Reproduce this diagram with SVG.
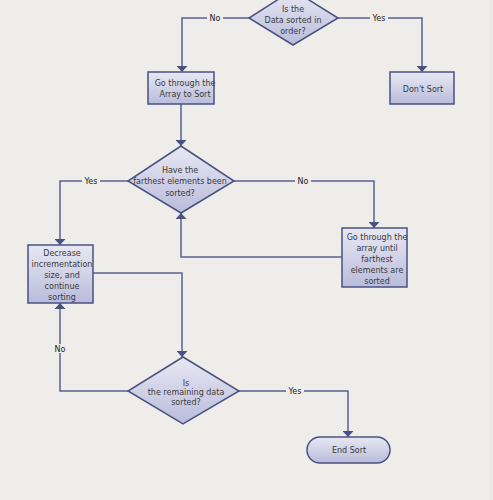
<svg xmlns="http://www.w3.org/2000/svg" width="493" height="500" viewBox="0 0 493 500">
<defs>
<linearGradient id="g" x1="0" y1="0" x2="0" y2="1">
<stop offset="0" stop-color="#e8e8f3"/>
<stop offset="1" stop-color="#b9bcdb"/>
</linearGradient>
<marker id="arr" viewBox="0 0 6 11" refX="6" refY="5.5" markerWidth="6" markerHeight="11" markerUnits="userSpaceOnUse" orient="auto">
<path d="M0,0 L6,5.5 L0,11 Z" fill="#4a5282"/>
</marker>
<style>
.s{fill:url(#g);stroke:#4a5282;stroke-width:1.5}
.c{fill:none;stroke:#5a6290;stroke-width:1.5;marker-end:url(#arr)}
text{font-family:"DejaVu Sans","Liberation Sans",sans-serif;font-size:8px;fill:#3a3a3a;text-anchor:middle}
.lb{fill:#222}
</style>
</defs>
<rect width="493" height="500" fill="#eeedea"/>
<line x1="491" y1="0" x2="491" y2="500" stroke="#e2e1de" stroke-width="1"/>
<g id="connectors">
<polyline class="c" points="249,18 182,18 182,72"/>
<polyline class="c" points="338,18 422,18 422,72"/>
<polyline class="c" points="181,104 181,146"/>
<polyline class="c" points="128,181 60,181 60,245"/>
<polyline class="c" points="234,181 374,181 374,228"/>
<polyline class="c" points="342,257 181,257 181,213"/>
<polyline class="c" points="93,273 182,273 182,357"/>
<polyline class="c" points="128,391 60,391 60,303"/>
<polyline class="c" points="239,391 348,391 348,437"/>
<rect x="207" y="13" width="16" height="9" fill="#eeedea"/>
<text class="lb" x="215" y="21">No</text>
<rect x="370" y="13" width="18" height="9" fill="#eeedea"/>
<text class="lb" x="379" y="21">Yes</text>
<rect x="82" y="176" width="18" height="9" fill="#eeedea"/>
<text class="lb" x="91" y="184">Yes</text>
<rect x="295" y="176" width="16" height="9" fill="#eeedea"/>
<text class="lb" x="303" y="184">No</text>
<rect x="52" y="344" width="16" height="9" fill="#eeedea"/>
<text class="lb" x="60" y="352">No</text>
<rect x="286" y="386" width="18" height="9" fill="#eeedea"/>
<text class="lb" x="295" y="394">Yes</text>
</g>
<g id="q1">
<polygon class="s" points="293,-10 338,18 293,45 249,18"/>
<text x="293" y="12">Is the</text>
<text x="293" y="23">Data sorted  in</text>
<text x="293" y="34">order?</text>
</g>
<g id="goArray">
<rect class="s" x="148" y="72" width="66" height="32"/>
<text x="185" y="86">Go through the</text>
<text x="185" y="97">Array to Sort</text>
</g>
<g id="dontSort">
<rect class="s" x="390" y="72" width="64" height="32"/>
<text x="423" y="92">Don't Sort</text>
</g>
<g id="q2">
<polygon class="s" points="181,146 234,181 181,213 128,181"/>
<text x="180" y="173">Have the</text>
<text x="180" y="184">farthest elements  been</text>
<text x="180" y="196">sorted?</text>
</g>
<g id="goUntil">
<rect class="s" x="342" y="228" width="65" height="59"/>
<text x="377" y="240">Go through the</text>
<text x="377" y="251">array until</text>
<text x="377" y="262">farthest</text>
<text x="377" y="273">elements are</text>
<text x="377" y="284">sorted</text>
</g>
<g id="decrease">
<rect class="s" x="28" y="245" width="65" height="58"/>
<text x="62" y="256">Decrease</text>
<text x="62" y="267">incrementation</text>
<text x="62" y="278">size, and</text>
<text x="62" y="289">continue</text>
<text x="62" y="300">sorting</text>
</g>
<g id="q3">
<polygon class="s" points="183,357 239,391 183,424 128,391"/>
<text x="186" y="386">Is</text>
<text x="186" y="395">the remaining  data</text>
<text x="186" y="405">sorted?</text>
</g>
<g id="endSort">
<rect class="s" x="307" y="437" width="83" height="26" rx="13" ry="13"/>
<text x="349" y="453">End Sort</text>
</g>
</svg>
